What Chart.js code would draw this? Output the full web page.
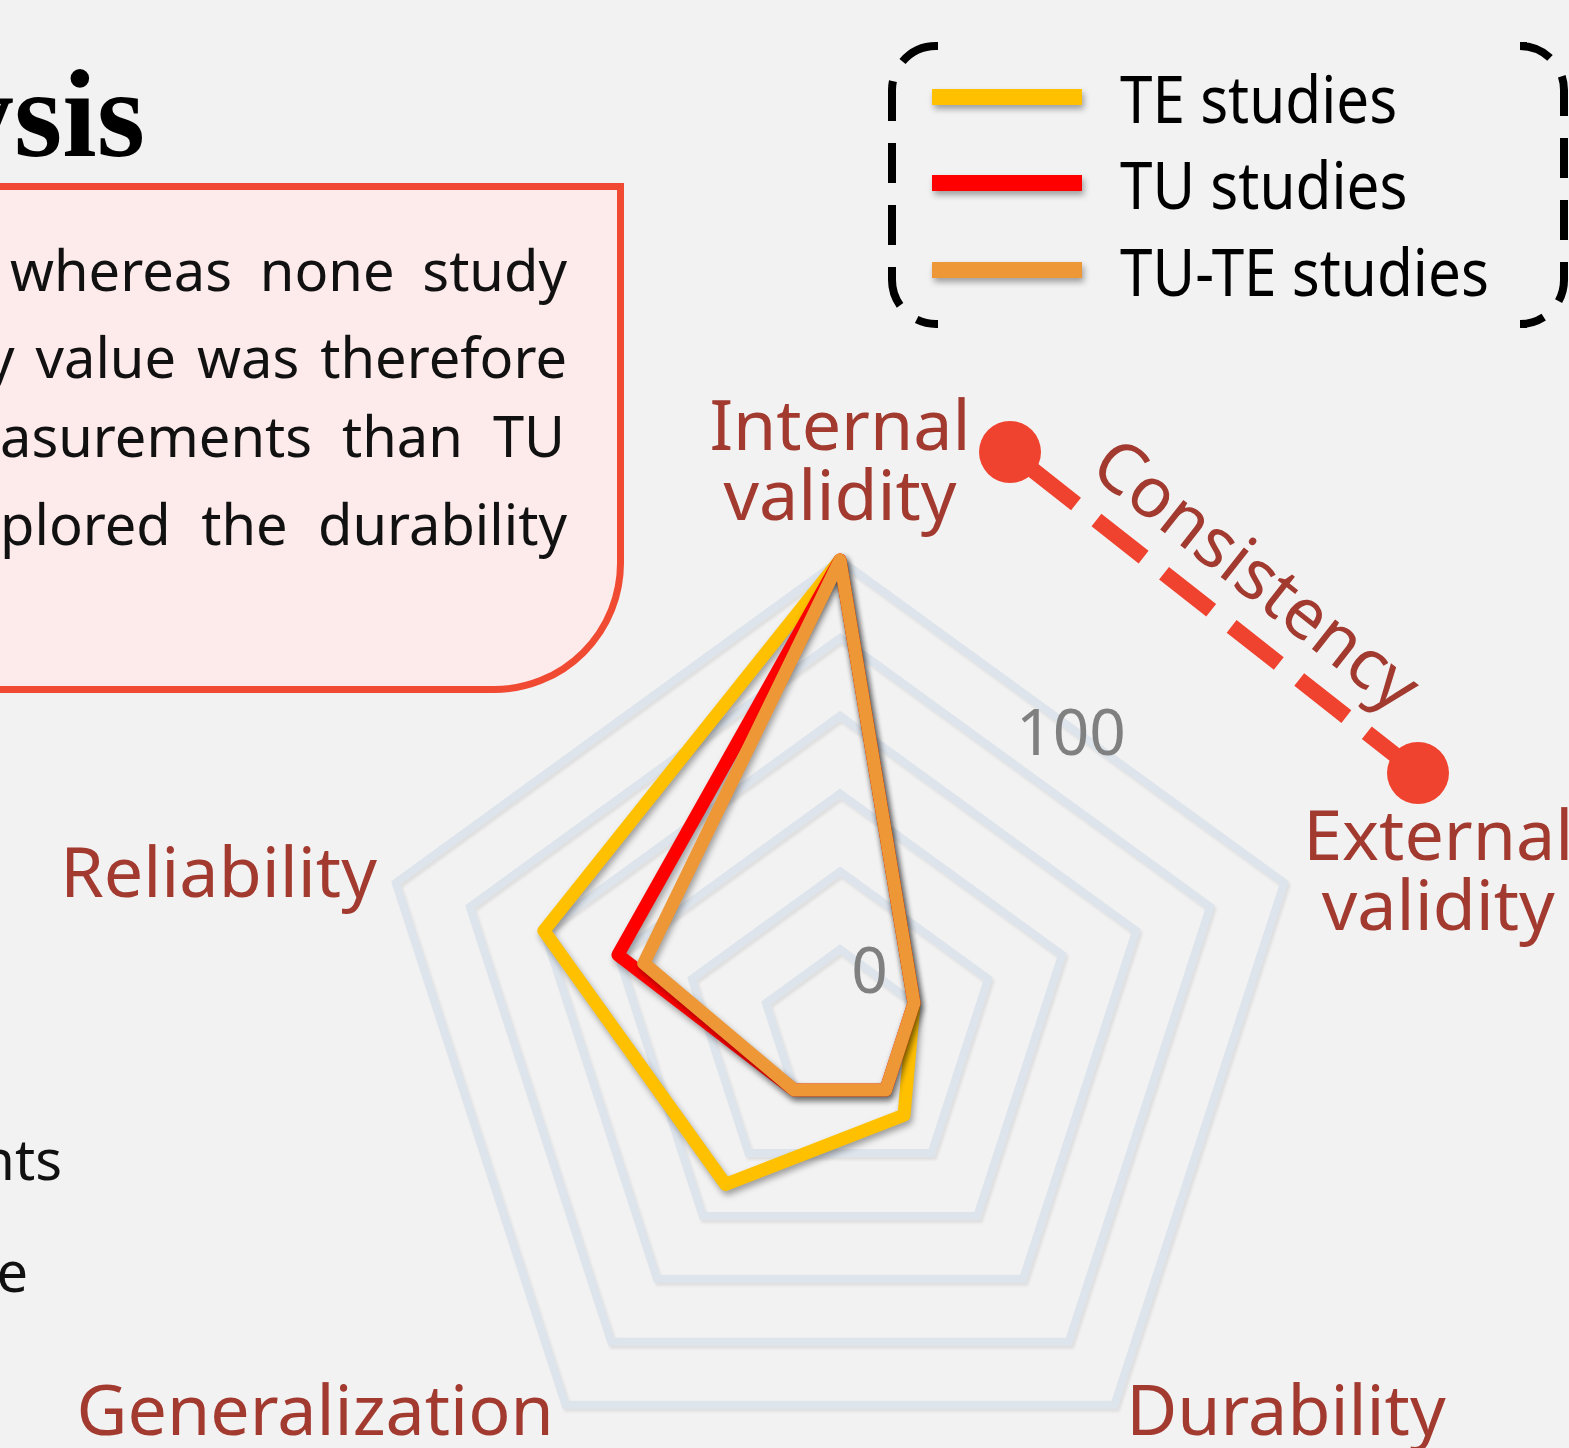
<!DOCTYPE html>
<html>
<head>
<meta charset="utf-8">
<title>Consistency radar</title>
<script src="https://cdn.jsdelivr.net/npm/chart.js@4.4.1/dist/chart.umd.min.js"></script>
<style>
  html, body { margin: 0; padding: 0; }
  body {
    width: 1569px; height: 1448px; position: relative; overflow: hidden;
    background: #f2f2f2; font-family: "Noto Sans", sans-serif;
  }
  #radar { position: absolute; left: 0; top: 0; }
  .title {
    position: absolute; right: 1424px; top: 53px; white-space: nowrap;
    font: bold 124px/1 "Liberation Serif", serif; color: #000;
  }
  .note {
    position: absolute; left: -20px; top: 183px; width: 644px; height: 510px;
    box-sizing: border-box; background: #fdebeb; border: 7px solid #f04a33;
    border-bottom-right-radius: 130px;
  }
  .row {
    position: absolute; display: flex; justify-content: space-between;
    white-space: nowrap; font-size: 56px; line-height: 56px; color: #111;
  }
  .frag {
    position: absolute; white-space: nowrap; font-size: 56px; line-height: 56px; color: #111;
  }
</style>
</head>
<body>
<canvas id="radar" width="1569" height="1448"></canvas>

<div class="title">Analysis</div>
<div class="note"></div>
<div class="row" style="left:10px;width:557px;top:241px"><span>whereas</span><span>none</span><span>study</span></div>
<div class="row" style="left:-14px;width:581px;top:328px"><span>y</span><span>value</span><span>was</span><span>therefore</span></div>
<div class="row" style="left:0px;width:565px;top:407px"><span>asurements</span><span>than</span><span>TU</span></div>
<div class="row" style="left:0px;width:567px;top:495px"><span>plored</span><span>the</span><span>durability</span></div>
<div class="frag" style="right:1507px;top:1130px">nts</div>
<div class="frag" style="right:1541px;top:1242px">e</div>

<script>
// chart data
const axisLabels = [["Internal", "validity"], ["External", "validity"], "Durability", "Generalization", "Reliability"];
const seriesNames = ["TE studies", "TU studies", "TU-TE studies"];
const teValues = [100, 0, 8, 30, 60];
const tuValues = [100, 0, 0, 0, 40];
const tuteValues = [100, 0, 0, 0, 33];
const seriesColors = ["#ffc000", "#ff0000", "#ee9736"];
const tickLabels = [0, 100];
const scaleMin = -20;
const scaleMax = 100;
const scaleStep = 20;

const labelColor = "#a23a30";
const accent = "#ef432f";

// puts the polygon where it sits in the picture
function placeScale(scale) {
    scale.xCenter = 840;
    scale.yCenter = 1027;
    scale.drawingArea = 467;
}

function setShadow(ctx, color, blur, dx, dy) {
    ctx.shadowColor = color;
    ctx.shadowBlur = blur;
    ctx.shadowOffsetX = dx;
    ctx.shadowOffsetY = dy;
}

const shadowPlugin = {
    id: "shadow",
    beforeDraw(chart) {
        setShadow(chart.ctx, "rgba(0,0,0,0.08)", 3, 2, 3);
    },
    beforeDatasetsDraw(chart) {
        setShadow(chart.ctx, "rgba(0,0,0,0.35)", 6, 2, 4);
    },
    afterDatasetsDraw(chart) {
        setShadow(chart.ctx, "rgba(0,0,0,0)", 0, 0, 0);
    }
};

// axis names, the two tick values, legend and the consistency marker
const decorPlugin = {
    id: "decor",
    afterDraw(chart) {
        const ctx = chart.ctx;
        const r = chart.scales.r;
        ctx.save();

        // axis names
        ctx.font = '70px "Noto Sans"';
        ctx.fillStyle = labelColor;
        ctx.textBaseline = "alphabetic";
        axisLabels.forEach((lab, i) => {
            const lines = [].concat(lab);
            const p = r.getPointPosition(i, r.drawingArea + 20);
            const lh = 70;
            if (i === 0) {
                ctx.textAlign = "center";
                lines.forEach((t, k) => ctx.fillText(t, p.x, p.y - 20 - lh * (lines.length - 1 - k)));
            } else if (i === 1) {
                const w = Math.max(...lines.map(t => ctx.measureText(t).width));
                ctx.textAlign = "center";
                lines.forEach((t, k) => ctx.fillText(t, p.x + w / 2, p.y - 17 + lh * k));
            } else if (i === 2) {
                ctx.textAlign = "left";
                ctx.fillText(lines[0], p.x, p.y + 14);
            } else if (i === 3) {
                ctx.textAlign = "right";
                ctx.fillText(lines[0], p.x, p.y + 14);
            } else {
                ctx.textAlign = "right";
                ctx.fillText(lines[0], p.x, p.y + 20);
            }
        });

        // tick values, sitting on the first edge of their ring
        ctx.font = '64px "Noto Sans"';
        ctx.fillStyle = "#808080";
        ctx.textAlign = "center";
        ctx.textBaseline = "middle";
        tickLabels.forEach(v => {
            const d = r.getDistanceFromCenterForValue(v);
            const a = r.getPointPosition(0, d);
            const b = r.getPointPosition(1, d);
            const t = v === 0 ? 0.4 : 0.52;
            ctx.fillText(String(v), a.x + (b.x - a.x) * t, a.y + (b.y - a.y) * t + (v === 0 ? 4 : 9));
        });

        // legend
        const ds = chart.data.datasets;
        const legendY = [97, 183, 270];
        ds.forEach((d, k) => {
            ctx.save();
            setShadow(ctx, "rgba(0,0,0,0.35)", 6, 2, 4);
            ctx.strokeStyle = d.borderColor;
            ctx.lineWidth = 16;
            ctx.beginPath();
            ctx.moveTo(932, legendY[k]);
            ctx.lineTo(1082, legendY[k]);
            ctx.stroke();
            ctx.restore();
        });
        ctx.fillStyle = "#000";
        ctx.font = '66px "Noto Sans"';
        ctx.textAlign = "left";
        ctx.textBaseline = "alphabetic";
        ds.forEach((d, k) => {
            ctx.save();
            ctx.translate(1120, legendY[k] + 26);
            ctx.scale(0.885, 1);
            ctx.fillText(d.label, 0, 0);
            ctx.restore();
        });

        // dashed brackets round the legend
        ctx.strokeStyle = "#000";
        ctx.lineWidth = 8;
        ctx.setLineDash([40, 22]);
        const bracket = (xEnd, xLine, top, bottom, rad) => {
            const dir = Math.sign(xEnd - xLine);
            ctx.beginPath();
            ctx.moveTo(xEnd, top);
            ctx.lineTo(xLine + dir * rad, top);
            ctx.arcTo(xLine, top, xLine, top + rad, rad);
            ctx.lineTo(xLine, bottom - rad);
            ctx.arcTo(xLine, bottom, xLine + dir * rad, bottom, rad);
            ctx.lineTo(xEnd, bottom);
            ctx.stroke();
        };
        bracket(938, 892, 46, 324, 44);
        bracket(1527, 1564, 46, 324, 44);
        ctx.setLineDash([]);

        // consistency marker between the first two axes
        const p1 = {x: 1010, y: 452};
        const p2 = {x: 1418, y: 773};
        ctx.strokeStyle = accent;
        ctx.fillStyle = accent;
        ctx.lineWidth = 16;
        ctx.setLineDash([60, 26]);
        ctx.lineDashOffset = -24;
        ctx.beginPath();
        ctx.moveTo(p1.x, p1.y);
        ctx.lineTo(p2.x, p2.y);
        ctx.stroke();
        ctx.setLineDash([]);
        [p1, p2].forEach(p => {
            ctx.beginPath();
            ctx.arc(p.x, p.y, 31, 0, Math.PI * 2);
            ctx.fill();
        });
        const ang = Math.atan2(p2.y - p1.y, p2.x - p1.x);
        const mx = (p1.x + p2.x) / 2, my = (p1.y + p2.y) / 2;
        ctx.translate(mx + Math.sin(ang) * 52 + Math.cos(ang) * 10, my - Math.cos(ang) * 52 + Math.sin(ang) * 10);
        ctx.rotate(ang);
        ctx.font = '70px "Noto Sans"';
        ctx.fillStyle = labelColor;
        ctx.textAlign = "center";
        ctx.textBaseline = "middle";
        ctx.fillText("Consistency", 0, 0);

        ctx.restore();
    }
};

const seriesValues = [teValues, tuValues, tuteValues];

new Chart(document.getElementById("radar"), {
    type: "radar",
    data: {
        labels: axisLabels,
        datasets: seriesNames.map((name, k) => ({
            label: name,
            data: seriesValues[k],
            borderColor: seriesColors[k],
            backgroundColor: "rgba(0,0,0,0)",
            borderWidth: 13,
            borderJoinStyle: "round",
            fill: false,
            pointRadius: 0,
            pointHoverRadius: 0,
            order: seriesNames.length - k
        }))
    },
    options: {
        responsive: false,
        devicePixelRatio: 1,
        animation: false,
        plugins: {
            legend: { display: false },
            tooltip: { enabled: false }
        },
        scales: {
            r: {
                min: scaleMin,
                max: scaleMax,
                ticks: { stepSize: scaleStep, display: false },
                grid: { color: "#dde4ec", lineWidth: 8 },
                angleLines: { display: false },
                pointLabels: { display: false },
                afterFit: placeScale
            }
        }
    },
    plugins: [shadowPlugin, decorPlugin]
});
</script>
</body>
</html>
